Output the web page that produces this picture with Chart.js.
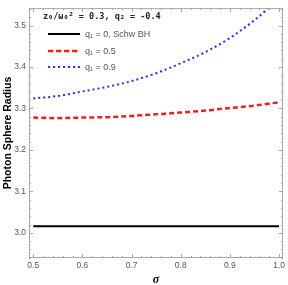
<!DOCTYPE html>
<html>
<head>
<meta charset="utf-8">
<script src="https://cdn.jsdelivr.net/npm/chart.js@4"></script>
<style>
    html, body { margin: 0; padding: 0; background: #fff; }
    #wrap { width: 288px; height: 285px; }
</style>
</head>
<body>
<div id="wrap"><canvas id="psChart" width="288" height="285"></canvas></div>
<script>
// sigma values and photon sphere radius for each q1
const sigma = [0.5, 0.55, 0.6, 0.65, 0.7, 0.75, 0.8, 0.85, 0.9, 0.95, 1.0];
const rSchw = [3.016, 3.016, 3.016, 3.016, 3.016, 3.016, 3.016, 3.016, 3.016, 3.016, 3.016];
const rQ05 = [3.278, 3.277, 3.278, 3.279, 3.282, 3.286, 3.290, 3.295, 3.301, 3.307, 3.315];
const rQ09 = [3.324, 3.330, 3.341, 3.352, 3.366, 3.385, 3.409, 3.436, 3.470, 3.513, 3.565];

const xTicks = [0.5, 0.6, 0.7, 0.8, 0.9, 1.0];
const yTicks = [3.0, 3.1, 3.2, 3.3, 3.4, 3.5];
const legendLabels = ['q\u2081 = 0, Schw BH', 'q\u2081 = 0.5', 'q\u2081 = 0.9'];
const boxTitle = 'z\u2080/\u03c9\u2080\u00b2 = 0.3, q\u2082 = -0.4';

function pts(ys) {
    return sigma.map((s, i) => ({ x: s, y: ys[i] }));
}

// frame + inward ticks, like a Mathematica frame
const framePlugin = {
    id: 'frame',
    afterDraw(chart) {
        const c = chart.ctx;
        const a = chart.chartArea;
        const xs = chart.scales.x;
        const ys = chart.scales.y;
        c.save();
        c.strokeStyle = '#a8a8a8';
        c.lineWidth = 1;
        c.strokeRect(a.left + 0.5, a.top + 0.5, a.right - a.left - 1, a.bottom - a.top - 1);

        c.beginPath();
        for (let i = 0; i <= 25; i++) {
            const v = 0.5 + i * 0.02;
            const px = Math.round(xs.getPixelForValue(v)) + 0.5;
            const len = (i % 5 === 0) ? 4 : 2;
            c.moveTo(px, a.bottom); c.lineTo(px, a.bottom - len);
            c.moveTo(px, a.top); c.lineTo(px, a.top + len);
        }
        for (let i = -3; i <= 27; i++) {
            const v = 3.0 + i * 0.02;
            if (v < ys.min || v > ys.max) continue;
            const py = Math.round(ys.getPixelForValue(v)) + 0.5;
            const len = (i % 5 === 0) ? 4 : 2;
            c.moveTo(a.left, py); c.lineTo(a.left + len, py);
            c.moveTo(a.right, py); c.lineTo(a.right - len, py);
        }
        c.stroke();
        c.restore();
    }
};

// legend block inside the plot
const boxPlugin = {
    id: 'box',
    afterDraw(chart) {
        const c = chart.ctx;
        c.save();
        c.fillStyle = '#222';
        c.font = 'bold 8.5px "DejaVu Sans Mono"';
        c.textBaseline = 'middle';
        c.fillText(boxTitle, 43, 17);

        const rows = [34, 51, 67];
        chart.data.datasets.forEach((ds, i) => {
            c.strokeStyle = ds.borderColor;
            c.lineWidth = ds.borderWidth;
            c.setLineDash(ds.borderDash || []);
            c.beginPath();
            c.moveTo(48, rows[i]);
            c.lineTo(80, rows[i]);
            c.stroke();
            c.setLineDash([]);
            c.fillStyle = '#555';
            c.font = '9px "Liberation Sans"';
            c.fillText(legendLabels[i], 85, rows[i] + 0.5);
        });
        c.restore();
    }
};

const ctx = document.getElementById('psChart').getContext('2d');

new Chart(ctx, {
    type: 'line',
    data: {
        datasets: [
            {
                label: legendLabels[0],
                data: pts(rSchw),
                borderColor: '#000000',
                borderWidth: 2,
                pointRadius: 0
            },
            {
                label: legendLabels[1],
                data: pts(rQ05),
                borderColor: '#ff1a1a',
                borderWidth: 2.5,
                borderDash: [5, 3],
                pointRadius: 0,
                cubicInterpolationMode: 'monotone'
            },
            {
                label: legendLabels[2],
                data: pts(rQ09),
                borderColor: '#2b2bff',
                borderWidth: 2,
                borderDash: [2, 3],
                pointRadius: 0,
                cubicInterpolationMode: 'monotone'
            }
        ]
    },
    options: {
        responsive: false,
        animation: false,
        layout: { padding: { top: 0, right: 2, left: 0, bottom: 0 } },
        plugins: {
            legend: { display: false },
            tooltip: { enabled: false }
        },
        scales: {
            x: {
                type: 'linear',
                min: 0.4914,
                max: 1.008,
                afterBuildTicks: (s) => { s.ticks = xTicks.map(v => ({ value: v })); },
                afterFit: (s) => { s.height = 27; },
                grid: { display: false, drawTicks: false },
                border: { display: false },
                ticks: {
                    padding: 3,
                    color: '#555',
                    font: { family: 'Liberation Sans', size: 8.5 },
                    maxRotation: 0,
                    callback: (v) => v.toFixed(1)
                },
                title: {
                    display: true,
                    text: '\u03c3',
                    color: '#000',
                    padding: 0,
                    font: { family: 'Liberation Serif', size: 12, style: 'italic', weight: 'bold', lineHeight: 0.8 }
                }
            },
            y: {
                min: 2.9393,
                max: 3.542,
                afterBuildTicks: (s) => { s.ticks = yTicks.map(v => ({ value: v })); },
                afterFit: (s) => { s.width = 29; },
                grid: { display: false, drawTicks: false },
                border: { display: false },
                ticks: {
                    padding: 3,
                    color: '#555',
                    font: { family: 'Liberation Sans', size: 8.5 },
                    callback: (v) => v.toFixed(1)
                },
                title: {
                    display: true,
                    text: 'Photon Sphere Radius',
                    color: '#000',
                    padding: { top: 2, bottom: 0 },
                    font: { family: 'Liberation Sans', size: 10.5, weight: 'bold' }
                }
            }
        }
    },
    plugins: [framePlugin, boxPlugin]
});
</script>
</body>
</html>
